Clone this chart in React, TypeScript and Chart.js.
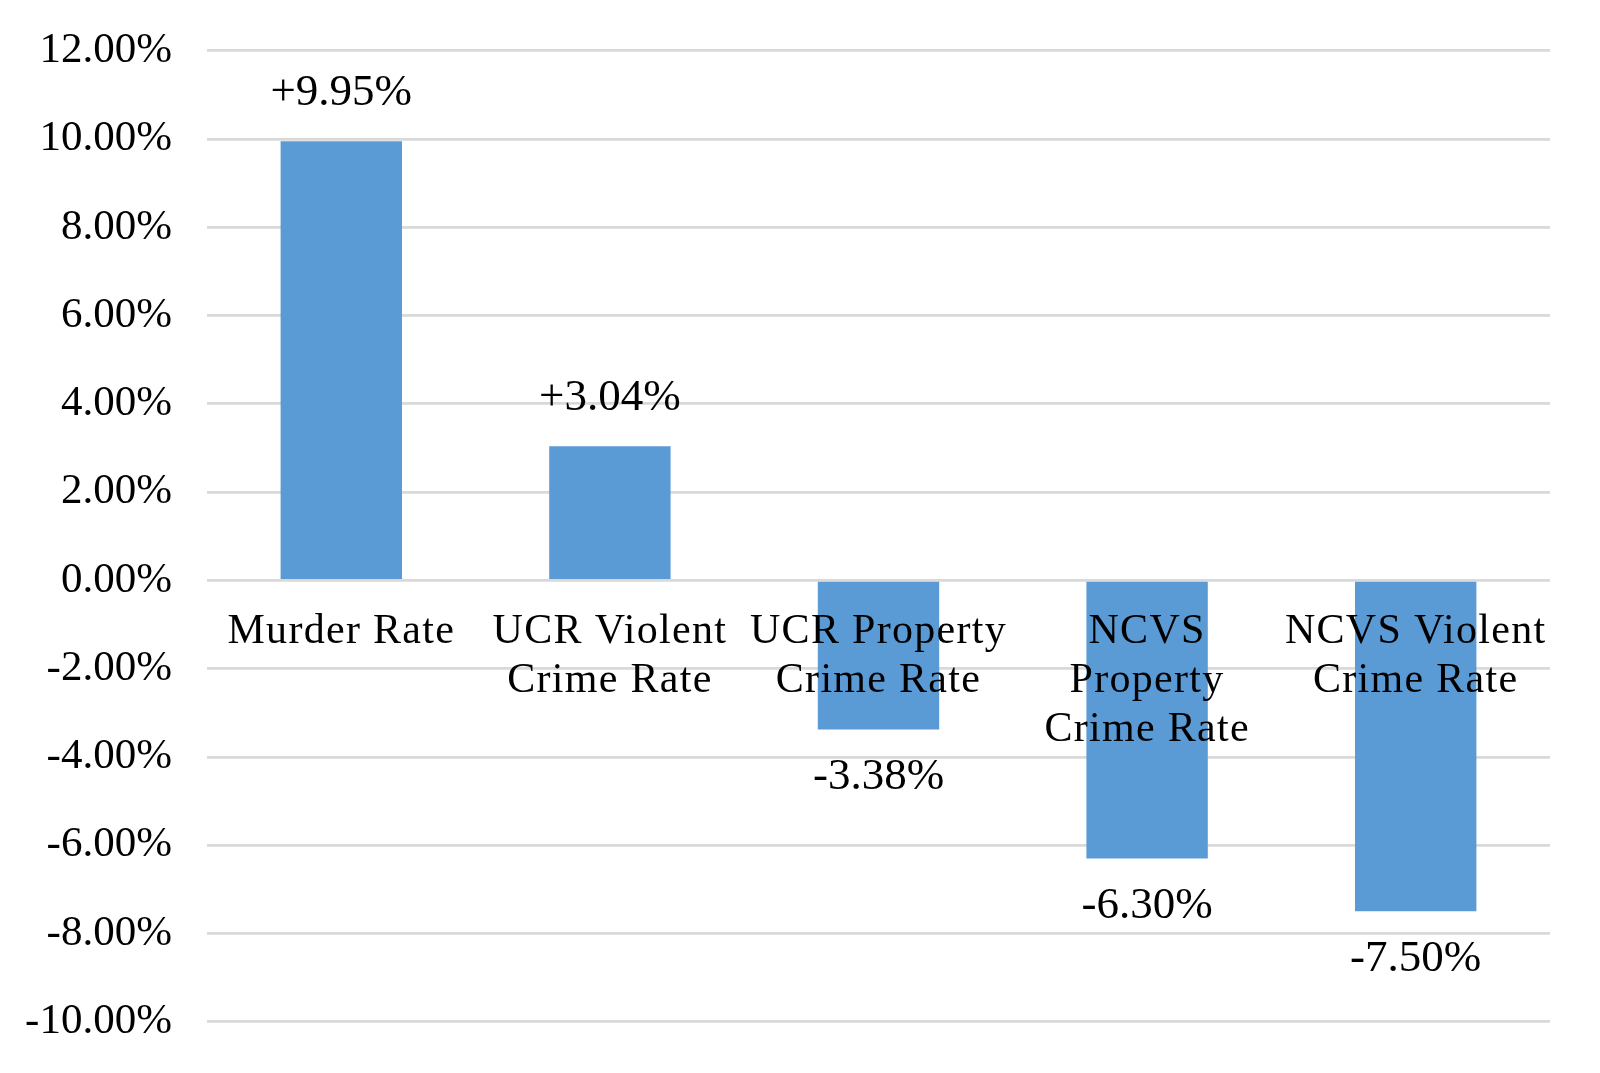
import React, { useEffect, useRef } from "react";
import { Chart, registerables } from "chart.js";

Chart.register(...registerables);

const categories: (string | string[])[] = [
  "Murder Rate",
  ["UCR Violent", "Crime Rate"],
  ["UCR Property", "Crime Rate"],
  ["NCVS", "Property", "Crime Rate"],
  ["NCVS Violent", "Crime Rate"],
];
const changeValues: number[] = [9.95, 3.04, -3.38, -6.3, -7.5];
const yMin = -10;
const yMax = 12;
const yStep = 2;

const FONT = '"Liberation Serif", "Times New Roman", serif';
const BAR_COLOR = "#5b9bd5";
const GRID_COLOR = "#d9d9d9";

const fmtLabel = (v: number) => (v > 0 ? "+" : "") + v.toFixed(2) + "%";

const valueLabelPlugin = {
  id: "valueLabels",
  beforeDraw(chart: any) {
    (chart.ctx as any).letterSpacing = "0px";
  },
  afterDatasetsDraw(chart: any) {
    const ctx = chart.ctx;
    const meta = chart.getDatasetMeta(0);
    ctx.save();
    ctx.font = `45px ${FONT}`;
    ctx.fillStyle = "#000";
    ctx.textAlign = "center";
    ctx.textBaseline = "middle";
    meta.data.forEach((bar: any, i: number) => {
      const v = changeValues[i];
      const off = 48;
      const y = v >= 0 ? bar.y - off : bar.y + off;
      ctx.fillText(fmtLabel(v), bar.x, y);
    });
    ctx.restore();
    // category labels (drawn after bars) get a slight letter spacing
    (ctx as any).letterSpacing = "1.3px";
  },
  afterDraw(chart: any) {
    (chart.ctx as any).letterSpacing = "0px";
  },
};

export default function App() {
  const ref = useRef<HTMLCanvasElement>(null);
  useEffect(() => {
    if (!ref.current) return;
    const chart = new Chart(ref.current, {
      type: "bar",
      data: {
        labels: categories as any,
        datasets: [
          {
            data: changeValues,
            backgroundColor: BAR_COLOR,
            borderWidth: 0,
            categoryPercentage: 1,
            barPercentage: 0.452,
          },
        ],
      },
      options: {
        animation: false,
        responsive: false,
        layout: { padding: { left: 0, top: 50.7, right: 50, bottom: 51.3 } },
        plugins: {
          legend: { display: false },
          tooltip: { enabled: false },
        },
        scales: {
          x: {
            position: { y: 0 } as any,
            grid: { display: false, drawTicks: false },
            border: { display: false },
            ticks: {
              z: 1,
              color: "#000",
              padding: 27,
              maxRotation: 0,
              autoSkip: false,
              font: { family: FONT, size: 42, lineHeight: 1.17 },
            },
          },
          y: {
            min: yMin,
            max: yMax,
            afterFit: (scale: any) => {
              scale.width = 207;
            },
            grid: {
              color: GRID_COLOR,
              lineWidth: 2.7,
              drawTicks: true,
              tickLength: 35,
              tickColor: "rgba(0,0,0,0)",
            },
            border: { display: false },
            ticks: {
              stepSize: yStep,
              color: "#000",
              padding: 0,
              font: { family: FONT, size: 43 },
              callback: (v: any) => Number(v).toFixed(2) + "%",
            },
          },
        },
      },
      plugins: [valueLabelPlugin],
    });
    return () => chart.destroy();
  }, []);
  return (
    <div style={{ position: "absolute", left: 0, top: 0, width: 1600, height: 1073, background: "#fff" }}>
      <canvas ref={ref} width={1600} height={1073} style={{ display: "block" }} />
    </div>
  );
}
